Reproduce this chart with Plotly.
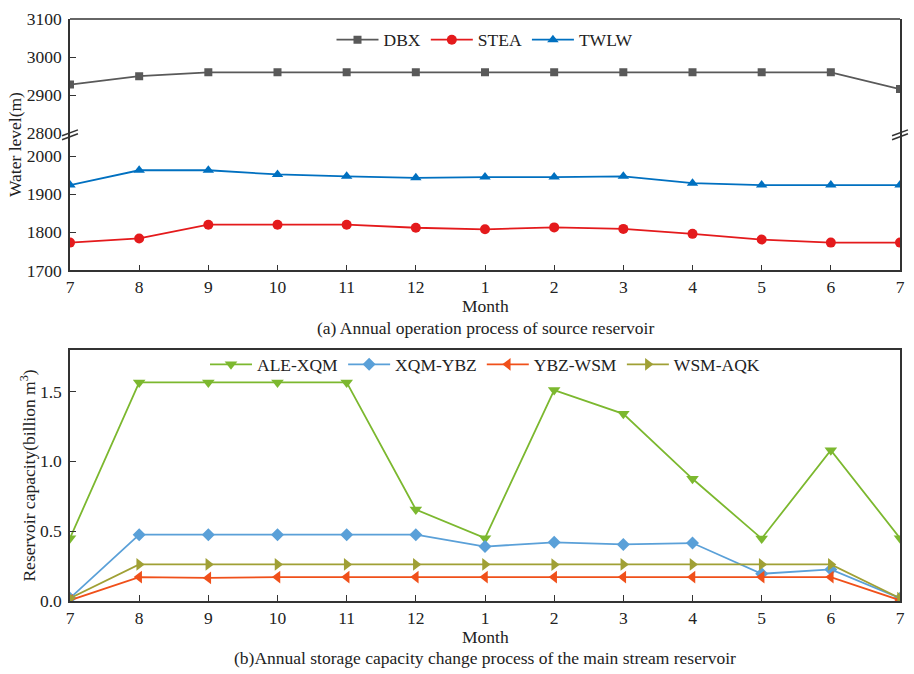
import plotly.graph_objects as go

months = ["7", "8", "9", "10", "11", "12", "1", "2", "3", "4", "5", "6", "7"]
xpos = list(range(len(months)))

dbx = [2928, 2950, 2960, 2960, 2960, 2960, 2960, 2960, 2960, 2960, 2960, 2960, 2916]
stea = [1773, 1784, 1820, 1820, 1820, 1812, 1808, 1813, 1809, 1796, 1781, 1773, 1773]
twlw = [1924, 1963, 1963, 1952, 1947, 1943, 1945, 1945, 1947, 1929, 1924, 1924, 1924]

ale_xqm = [0.45, 1.565, 1.565, 1.565, 1.565, 0.655, 0.45, 1.51, 1.34, 0.875, 0.447, 1.08, 0.45]
xqm_ybz = [0.02, 0.475, 0.475, 0.475, 0.475, 0.475, 0.39, 0.42, 0.405, 0.415, 0.195, 0.226, 0.02]
ybz_wsm = [0.005, 0.171, 0.165, 0.171, 0.171, 0.171, 0.171, 0.171, 0.171, 0.171, 0.171, 0.171, 0.005]
wsm_aqk = [0.02, 0.262, 0.262, 0.262, 0.262, 0.262, 0.262, 0.26, 0.262, 0.262, 0.262, 0.262, 0.02]

FONT = "Liberation Serif, Times New Roman, serif"
FS = 17.5
W, H = 914, 674
ML, MR, MT, MB = 70, 9, 13, 73
PH = H - MT - MB
PW = W - ML - MR


def py(px):
    return 1 - (px - MT) / PH


def pxx(px):
    return (px - ML) / PW


brk = 128.5
dom_up = [py(brk), 1.0]
dom_low = [py(267), py(brk)]
dom_bot = [0.0, py(347)]

fig = go.Figure()

top_series = [("DBX", dbx, "#595959", "square", 8, "y2"),
              ("STEA", stea, "#E41A1C", "circle", 10, "y"),
              ("TWLW", twlw, "#0070C0", "triangle-up", 10, "y")]
for name, vals, col, sym, sz, ya in top_series:
    fig.add_trace(go.Scatter(x=xpos, y=vals, name=name, mode="lines+markers",
                             line=dict(color=col, width=1.8),
                             marker=dict(symbol=sym, size=sz, color=col),
                             xaxis="x", yaxis=ya, legend="legend"))

bot_series = [("ALE-XQM", ale_xqm, "#7CB82F", "triangle-down", 11),
              ("XQM-YBZ", xqm_ybz, "#5AA0D8", "diamond", 10),
              ("YBZ-WSM", ybz_wsm, "#F0501A", "triangle-left", 11),
              ("WSM-AQK", wsm_aqk, "#A0A035", "triangle-right", 11)]
for name, vals, col, sym, sz in bot_series:
    fig.add_trace(go.Scatter(x=xpos, y=vals, name=name, mode="lines+markers",
                             line=dict(color=col, width=1.8),
                             marker=dict(symbol=sym, size=sz, color=col),
                             xaxis="x3", yaxis="y3", legend="legend2"))

axis_common = dict(showgrid=False, zeroline=False, ticks="inside", ticklen=6,
                   tickcolor="#333333", linecolor="#333333", linewidth=1.5,
                   tickfont=dict(family=FONT, size=FS, color="#222222"))

fig.update_layout(
    width=W, height=H,
    margin=dict(l=ML, r=MR, t=MT, b=MB),
    paper_bgcolor="white", plot_bgcolor="white",
    font=dict(family=FONT, size=FS, color="#222222"),
    showlegend=True,
    xaxis=dict(range=[0, 12], tickvals=xpos, ticktext=months, anchor="y",
               showline=True, ticklabelstandoff=0, **axis_common),
    yaxis=dict(domain=dom_low, range=[1700, 2060], tickvals=[1700, 1800, 1900, 2000],
               anchor="x", showline=True, mirror=True, ticklabelstandoff=3, **axis_common),
    yaxis2=dict(domain=dom_up, range=[2800, 3100], tickvals=[2800, 2900, 3000, 3100],
                anchor="x", showline=True, mirror=True, ticklabelstandoff=3, **axis_common),
    xaxis3=dict(range=[0, 12], tickvals=xpos, ticktext=months, anchor="y3",
                showline=True, mirror=True, ticklabelstandoff=0, **axis_common),
    yaxis3=dict(domain=dom_bot, range=[0, 1.8], tickvals=[0, 0.5, 1.0, 1.5],
                tickformat=".1f", anchor="x3", showline=True, mirror=True,
                ticklabelstandoff=3, **axis_common),
    legend=dict(orientation="h", x=0.5, xanchor="center", y=py(34), yanchor="middle",
                bgcolor="rgba(0,0,0,0)", font=dict(family=FONT, size=FS, color="#222222"),
                itemwidth=42, tracegroupgap=0),
    legend2=dict(orientation="h", x=0.5, xanchor="center", y=py(362), yanchor="middle",
                 bgcolor="rgba(0,0,0,0)", font=dict(family=FONT, size=FS, color="#222222"),
                 itemwidth=42, tracegroupgap=0),
)

shapes = [
    dict(type="line", xref="paper", yref="paper", x0=0, x1=1, y0=1, y1=1,
         line=dict(color="#333333", width=1.5)),
]
for xc in [ML, W - MR]:
    for dy in [-2, 2]:
        shapes.append(dict(type="line", xref="paper", yref="paper",
                           x0=pxx(xc - 8), x1=pxx(xc + 8),
                           y0=py(130 + dy + 3), y1=py(130 + dy - 3),
                           line=dict(color="#333333", width=1.5)))
fig.update_layout(shapes=shapes)

ann = [
    dict(text="Water level(m)", x=pxx(14), y=py(140), textangle=-90),
    dict(text="Reservoir capacity(billion m<sup>3</sup>)", x=pxx(28), y=py(474), textangle=-90),
    dict(text="Month", x=0.5, y=py(303)),
    dict(text="(a) Annual operation process of source reservoir", x=0.5, y=py(325)),
    dict(text="Month", x=0.5, y=py(637.5)),
    dict(text="(b)Annual storage capacity change process of the main stream reservoir", x=0.5, y=py(658.5)),
]
for a in ann:
    fig.add_annotation(xref="paper", yref="paper", xanchor="center", yanchor="middle",
                       showarrow=False, font=dict(family=FONT, size=FS, color="#222222"), **a)

fig.write_html("out.html", config={"displayModeBar": False},
               post_script="document.body.style.margin='0';document.body.style.overflow='hidden';")
